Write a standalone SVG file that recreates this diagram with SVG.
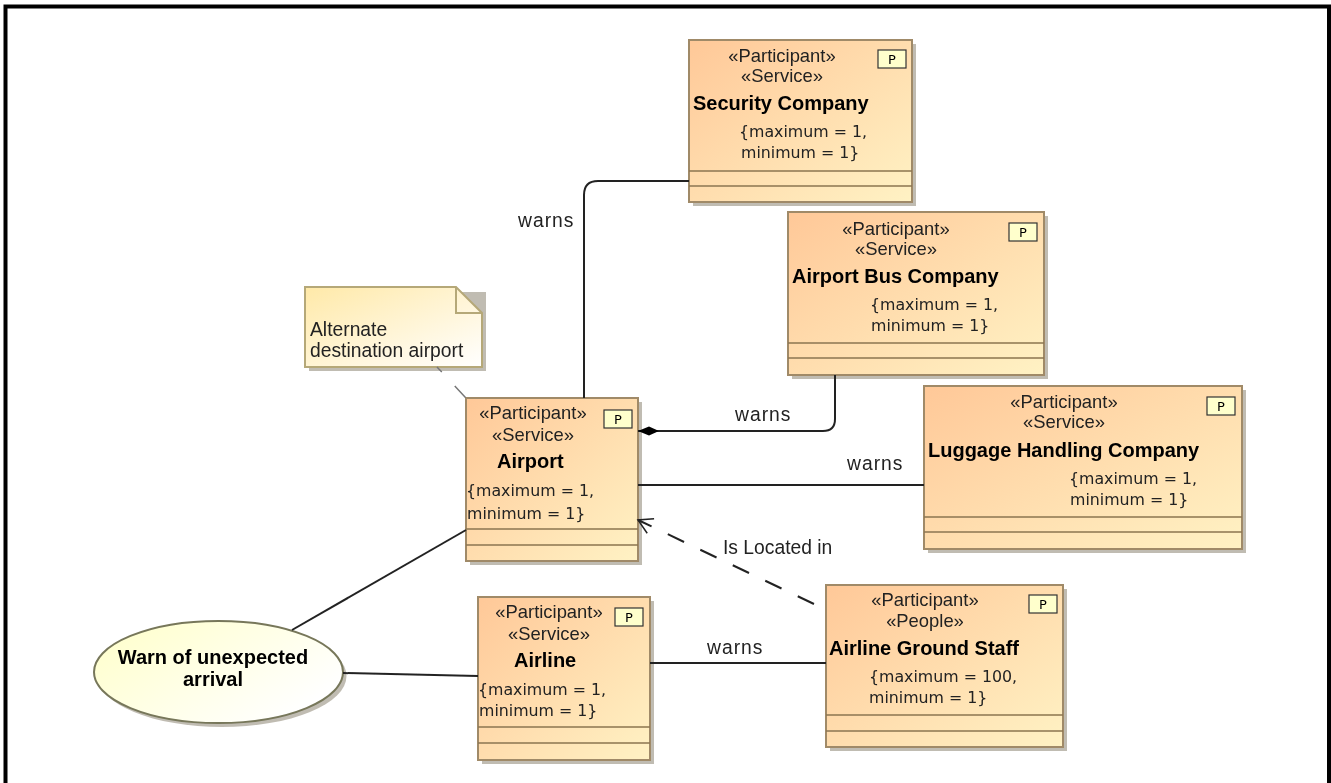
<svg xmlns="http://www.w3.org/2000/svg" width="1331" height="783" viewBox="0 0 1331 783">
<style>
.st{font:18.4px "Liberation Sans",Arial,sans-serif;fill:#222;text-anchor:middle}
.nm{font:bold 20px "Liberation Sans",Arial,sans-serif;fill:#000}
.ct{font:15.8px "DejaVu Sans",Verdana,sans-serif;fill:#222}
.lb{font:19.3px "Liberation Sans",Arial,sans-serif;fill:#222}
.w{letter-spacing:1px}
.box{fill:url(#part);stroke:#a08a68;stroke-width:2}
.sh{fill:#b5b0a5;opacity:.85}
.div{stroke:#8c7550;stroke-width:1.5}
.tag{fill:#ffffcc;stroke:#333;stroke-width:1.2}
.tagt{font:13px "DejaVu Sans",sans-serif;fill:#000;text-anchor:middle}
.c{fill:none;stroke:#222;stroke-width:2}
</style>
<defs>
<filter id="soft" filterUnits="userSpaceOnUse" x="0" y="0" width="1331" height="783"><feGaussianBlur stdDeviation="0.45"/></filter>
<linearGradient id="part" x1="0" y1="0" x2="1" y2="1"><stop offset="0" stop-color="#ffc898"/><stop offset="1" stop-color="#fff2c4"/></linearGradient>
<linearGradient id="note" x1="0" y1="0" x2="1" y2="1"><stop offset="0" stop-color="#ffe9a8"/><stop offset="1" stop-color="#ffffff"/></linearGradient>
<linearGradient id="uc" x1="0" y1="0" x2="1" y2="0.6"><stop offset="0" stop-color="#ffffc8"/><stop offset="1" stop-color="#ffffff"/></linearGradient>
<marker id="open" markerUnits="userSpaceOnUse" markerWidth="20" markerHeight="20" refX="17" refY="9" orient="auto"><path d="M3 1L17 9L3 17" fill="none" stroke="#222" stroke-width="1.5"/></marker>
<marker id="dia" markerUnits="userSpaceOnUse" markerWidth="26" markerHeight="12" refX="21" refY="6" orient="auto"><path d="M0 6L10 1.5L21 6L10 10.5Z" fill="#000"/></marker>
</defs>
<rect width="1331" height="783" fill="#fff"/>
<path d="M5.5 783V6.5H1329V783" fill="none" stroke="#000" stroke-width="4"/>
<g filter="url(#soft)">
<g id="note-alternate">
<path d="M309 292H486V371H309Z" class="sh"/>
<path d="M305 287H456L482 313V367H305Z" fill="url(#note)" stroke="#b5a878" stroke-width="2"/>
<path d="M456 287V313H482" fill="none" stroke="#b5a878" stroke-width="2"/>
<text class="lb" x="310" y="336">Alternate</text>
<text class="lb" x="310" y="357">destination airport</text>
</g>
<g id="security-company">
<rect class="sh" x="693" y="44" width="223" height="162"/>
<rect class="box" x="689" y="40" width="223" height="162"/>
<path class="div" d="M689 171H912M689 186H912"/>
<rect class="tag" x="878" y="50" width="28" height="18"/><text class="tagt" x="892" y="64">P</text>
<text class="st" x="782" y="62">«Participant»</text><text class="st" x="782" y="82">«Service»</text>
<text class="nm" x="693" y="110">Security Company</text>
<text class="ct" x="739" y="137">{maximum = 1,</text><text class="ct" x="741" y="158">minimum = 1}</text>
</g>
<g id="airport-bus-company">
<rect class="sh" x="792" y="216" width="256" height="163"/>
<rect class="box" x="788" y="212" width="256" height="163"/>
<path class="div" d="M788 343H1044M788 358H1044"/>
<rect class="tag" x="1009" y="223" width="28" height="18"/><text class="tagt" x="1023" y="237">P</text>
<text class="st" x="896" y="235">«Participant»</text><text class="st" x="896" y="255">«Service»</text>
<text class="nm" x="792" y="283">Airport Bus Company</text>
<text class="ct" x="870" y="310">{maximum = 1,</text><text class="ct" x="871" y="331">minimum = 1}</text>
</g>
<g id="luggage-handling-company">
<rect class="sh" x="928" y="390" width="318" height="163"/>
<rect class="box" x="924" y="386" width="318" height="163"/>
<path class="div" d="M924 517H1242M924 532H1242"/>
<rect class="tag" x="1207" y="397" width="28" height="18"/><text class="tagt" x="1221" y="411">P</text>
<text class="st" x="1064" y="408">«Participant»</text><text class="st" x="1064" y="428">«Service»</text>
<text class="nm" x="928" y="457">Luggage Handling Company</text>
<text class="ct" x="1069" y="484">{maximum = 1,</text><text class="ct" x="1070" y="505">minimum = 1}</text>
</g>
<g id="airport">
<rect class="sh" x="470" y="402" width="172" height="163"/>
<rect class="box" x="466" y="398" width="172" height="163"/>
<path class="div" d="M466 529H638M466 545H638"/>
<rect class="tag" x="604" y="410" width="28" height="18"/><text class="tagt" x="618" y="424">P</text>
<text class="st" x="533" y="419">«Participant»</text><text class="st" x="533" y="441">«Service»</text>
<text class="nm" x="497" y="468">Airport</text>
<text class="ct" x="466" y="496">{maximum = 1,</text><text class="ct" x="467" y="519">minimum = 1}</text>
</g>
<g id="airline">
<rect class="sh" x="482" y="601" width="172" height="163"/>
<rect class="box" x="478" y="597" width="172" height="163"/>
<path class="div" d="M478 727H650M478 743H650"/>
<rect class="tag" x="615" y="608" width="28" height="18"/><text class="tagt" x="629" y="622">P</text>
<text class="st" x="549" y="618">«Participant»</text><text class="st" x="549" y="640">«Service»</text>
<text class="nm" x="514" y="667">Airline</text>
<text class="ct" x="478" y="695">{maximum = 1,</text><text class="ct" x="479" y="716">minimum = 1}</text>
</g>
<g id="airline-ground-staff">
<rect class="sh" x="830" y="589" width="237" height="162"/>
<rect class="box" x="826" y="585" width="237" height="162"/>
<path class="div" d="M826 715H1063M826 731H1063"/>
<rect class="tag" x="1029" y="595" width="28" height="18"/><text class="tagt" x="1043" y="609">P</text>
<text class="st" x="925" y="606">«Participant»</text><text class="st" x="925" y="627">«People»</text>
<text class="nm" x="829" y="655">Airline Ground Staff</text>
<text class="ct" x="869" y="682">{maximum = 100,</text><text class="ct" x="869" y="703">minimum = 1}</text>
</g>
<g id="warn-use-case">
<ellipse cx="222" cy="676" rx="124.5" ry="51" class="sh"/>
<ellipse cx="218.5" cy="672" rx="124.5" ry="51" fill="url(#uc)" stroke="#77775a" stroke-width="2"/>
<text class="nm" x="213" y="664" text-anchor="middle">Warn of unexpected</text>
<text class="nm" x="213" y="686" text-anchor="middle">arrival</text>
</g>
<g id="connectors">
<path class="c" d="M584 398V195Q584 181 598 181H689"/>
<path class="c" d="M835 375V419Q835 431 823 431H638" marker-end="url(#dia)"/>
<path class="c" d="M638 485H924"/>
<path class="c" d="M814 604L638 520" stroke-dasharray="18 18" marker-end="url(#open)"/>
<path class="c" d="M650 663H826"/>
<path class="c" d="M292 630L466 530"/>
<path class="c" d="M343 673L478 676"/>
<path d="M437 367L466 398" fill="none" stroke="#777" stroke-width="1.5" stroke-dasharray="7 19 16"/>
<text class="lb w" x="518" y="227">warns</text>
<text class="lb w" x="735" y="421">warns</text>
<text class="lb w" x="847" y="470">warns</text>
<text class="lb" x="723" y="554">Is Located in</text>
<text class="lb w" x="707" y="654">warns</text>
</g>
</g>
</svg>
